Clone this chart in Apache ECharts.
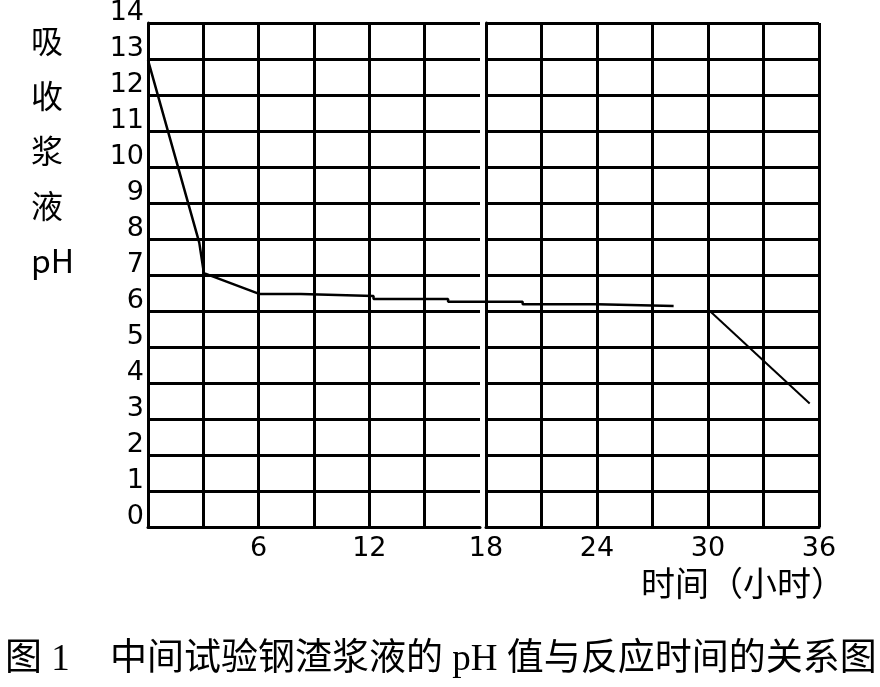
<!DOCTYPE html>
<html>
<head>
<meta charset="utf-8">
<script src="https://cdn.jsdelivr.net/npm/echarts@6/dist/echarts.min.js"></script>
<style>
html,body{margin:0;padding:0;background:#fff;}
#c{width:880px;height:687px;}
</style>
</head>
<body>
<div id="c"></div>
<script>
// ---- data ----
const xTickLabels = [6, 12, 18, 24, 30, 36];
const seg1X = [0, 2.75, 3, 6, 8.2, 8.2, 12.1, 12.1, 16.1, 16.1, 20.1, 20.1, 24.1, 24.1, 28.2];
const seg1Y = [12.97, 7.9, 7.05, 6.47, 6.47, 6.42, 6.42, 6.33, 6.33, 6.26, 6.26, 6.19, 6.19, 6.14, 6.14];
const seg2X = [30.1, 35.5];
const seg2Y = [6.02, 3.43];
const yName = ['吸', '收', '浆', '液', 'pH'];
const xName = '时间（小时）';
const captionNo = '图 1';
const caption = '中间试验钢渣浆液的 pH 值与反应时间的关系图';

const pairs = (xs, ys) => xs.map((x, i) => [x, ys[i]]);
const black = '#000';
const gridLine = { show: true, lineStyle: { color: black, width: 3 } };
const labelFont = { fontFamily: 'DejaVu Sans', fontSize: 27, color: black };
const xFmt = v => (xTickLabels.indexOf(v) >= 0 ? String(v) : '');

const chart = echarts.init(document.getElementById('c'), null, { renderer: 'canvas' });
chart.setOption({
  animation: false,
  backgroundColor: '#fff',
  grid: [
    { left: 148, right: 400, top: 23, bottom: 160, outerBoundsMode: 'none' },
    { left: 486, right: 61, top: 23, bottom: 160, outerBoundsMode: 'none' },
    { left: 148, right: 61, top: 23, bottom: 160, outerBoundsMode: 'none' }
  ],
  xAxis: [
    { gridIndex: 0, type: 'value', min: 0, max: 18, interval: 3,
      axisLine: { show: true, lineStyle: { color: black, width: 3 } },
      axisTick: { show: false },
      splitLine: { show: true, showMaxLine: false, lineStyle: { color: black, width: 3 } },
      axisLabel: Object.assign({ margin: 8, formatter: xFmt, showMaxLabel: false, showMinLabel: false }, labelFont) },
    { gridIndex: 1, type: 'value', min: 18, max: 36, interval: 3,
      axisLine: { show: true, lineStyle: { color: black, width: 3 } },
      axisTick: { show: false },
      splitLine: gridLine,
      axisLabel: Object.assign({ margin: 8, formatter: xFmt }, labelFont) },
    { gridIndex: 2, type: 'value', min: 0, max: 36, show: false }
  ],
  yAxis: [
    { gridIndex: 0, type: 'value', min: 0, max: 14, interval: 1,
      axisLine: { show: true, lineStyle: { color: black, width: 3 } },
      axisTick: { show: false },
      splitLine: gridLine,
      axisLabel: Object.assign({ margin: 4, verticalAlign: 'bottom', lineHeight: 20 }, labelFont) },
    { gridIndex: 1, type: 'value', min: 0, max: 14, interval: 1,
      axisLine: { show: true, lineStyle: { color: black, width: 3 } },
      axisTick: { show: false },
      splitLine: gridLine,
      axisLabel: { show: false } },
    { gridIndex: 2, type: 'value', min: 0, max: 14, show: false }
  ],
  series: [
    { type: 'line', xAxisIndex: 2, yAxisIndex: 2, data: pairs(seg1X, seg1Y),
      showSymbol: false, lineStyle: { color: black, width: 2.5 } },
    { type: 'line', xAxisIndex: 2, yAxisIndex: 2, data: pairs(seg2X, seg2Y),
      showSymbol: false, lineStyle: { color: black, width: 2 } }
  ],
  graphic: [
    { type: 'text', left: 31, top: 13, style: { text: yName.join('\n'), font: '32px "Noto Sans CJK SC"', lineHeight: 55, align: 'center', fill: black, width: 32 } },
    { type: 'text', left: 641, top: 566, style: { text: xName, font: '34px "Noto Sans CJK SC"', fill: black } },
    { type: 'text', left: 5, top: 642, style: { text: captionNo, font: '37px "Liberation Serif", "Noto Sans CJK SC"', fill: black } },
    { type: 'text', left: 110, top: 642, style: { text: caption, font: '37px "Liberation Serif", "Noto Sans CJK SC"', fill: black } }
  ]
});
</script>
</body>
</html>
